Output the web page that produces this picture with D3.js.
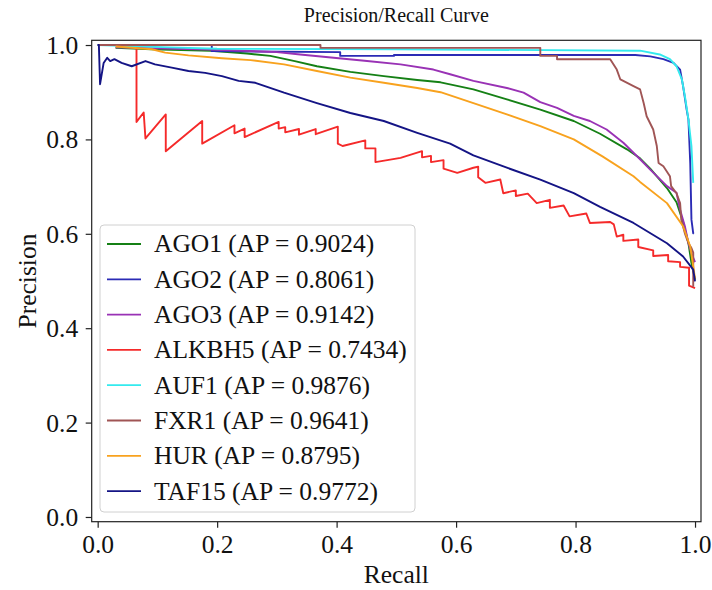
<!DOCTYPE html>
<html>
<head>
<meta charset="utf-8">
<script src="https://cdn.jsdelivr.net/npm/d3@7"></script>
<style>
  body { margin: 0; background: #fff; }
  svg text { font-family: "Liberation Serif", "Times New Roman", serif; fill: #111; }
</style>
</head>
<body>
<svg id="chart" width="712" height="590"></svg>
<script>
// series names, AP values, colours (legend order)
var names = ["AGO1", "AGO2", "AGO3", "ALKBH5", "AUF1", "FXR1", "HUR", "TAF15"];
var apValues = [0.9024, 0.8061, 0.9142, 0.7434, 0.9876, 0.9641, 0.8795, 0.9772];
var colors = ["#158015", "#2b2bb5", "#9932b5", "#f52a2a", "#33eaee", "#a05555", "#f8a21e", "#141485"];

// [recall, precision] points
var ago1 = [[0.03,0.994],[0.09,0.991],[0.19,0.988],[0.25,0.982],[0.289,0.977],[0.33,0.966],[0.367,0.955],
  [0.423,0.943],[0.479,0.934],[0.535,0.926],[0.574,0.921],[0.629,0.906],[0.685,0.885],[0.741,0.863],
  [0.797,0.839],[0.841,0.812],[0.886,0.779],[0.908,0.76],[0.925,0.738],[0.953,0.697],[0.969,0.667],
  [0.98,0.625],[0.989,0.58],[0.994,0.538],[1.0,0.503]];
var ago2 = [[0.0,1.0],[0.191,1.0],[0.191,0.987],[0.406,0.985],[0.406,0.977],[0.496,0.977],[0.496,0.979],
  [0.9,0.979],[0.925,0.976],[0.947,0.97],[0.964,0.962],[0.975,0.948],[0.98,0.913],[0.986,0.863],
  [0.989,0.842],[0.992,0.75],[0.994,0.63],[0.997,0.601],[0.998,0.6]];
var ago3 = [[0.03,0.995],[0.2,0.99],[0.3,0.985],[0.339,0.98],[0.395,0.973],[0.451,0.966],[0.507,0.959],
  [0.562,0.948],[0.59,0.938],[0.629,0.924],[0.685,0.909],[0.713,0.899],[0.741,0.879],[0.769,0.867],
  [0.797,0.85],[0.824,0.839],[0.852,0.821],[0.88,0.793],[0.908,0.758],[0.925,0.736],[0.953,0.701],
  [0.969,0.687],[0.975,0.651],[0.983,0.616],[0.989,0.58],[0.994,0.559],[1.0,0.54]];
var alkbh5 = [[0.065,0.996],[0.065,0.837],[0.077,0.857],[0.08,0.802],[0.114,0.853],[0.114,0.775],
  [0.175,0.839],[0.175,0.791],[0.229,0.83],[0.229,0.813],[0.246,0.823],[0.246,0.805],[0.303,0.837],
  [0.303,0.823],[0.314,0.826],[0.314,0.815],[0.337,0.822],[0.337,0.81],[0.365,0.822],[0.365,0.811],
  [0.402,0.827],[0.402,0.791],[0.41,0.786],[0.448,0.798],[0.448,0.781],[0.465,0.781],[0.465,0.752],
  [0.507,0.761],[0.543,0.775],[0.543,0.762],[0.558,0.765],[0.558,0.752],[0.579,0.756],[0.579,0.738],
  [0.602,0.729],[0.629,0.74],[0.637,0.742],[0.637,0.72],[0.649,0.708],[0.674,0.715],[0.679,0.686],
  [0.7,0.692],[0.7,0.68],[0.72,0.685],[0.735,0.665],[0.757,0.672],[0.757,0.655],[0.78,0.66],
  [0.79,0.637],[0.818,0.643],[0.824,0.623],[0.858,0.625],[0.864,0.62],[0.869,0.594],[0.88,0.598],
  [0.88,0.585],[0.905,0.588],[0.905,0.572],[0.93,0.565],[0.93,0.553],[0.955,0.555],[0.955,0.542],
  [0.975,0.54],[0.975,0.53],[0.99,0.528],[0.99,0.49],[1.0,0.485]];
var auf1 = [[0.0,1.0],[0.12,0.995],[0.2,0.992],[0.5,0.991],[0.908,0.988],[0.941,0.98],[0.958,0.97],
  [0.969,0.955],[0.978,0.927],[0.983,0.892],[0.989,0.842],[0.994,0.786],[0.997,0.708]];
var fxr1 = [[0.0,1.0],[0.373,1.0],[0.373,0.994],[0.741,0.994],[0.741,0.977],[0.769,0.977],[0.769,0.97],
  [0.858,0.97],[0.869,0.948],[0.875,0.927],[0.897,0.913],[0.908,0.906],[0.914,0.877],[0.919,0.849],
  [0.93,0.821],[0.936,0.786],[0.939,0.75],[0.947,0.743],[0.958,0.722],[0.96,0.701],[0.969,0.686],
  [0.975,0.665],[0.977,0.63],[0.983,0.601],[0.989,0.58],[0.994,0.57],[0.997,0.56],[0.997,0.488]];
var hur = [[0.03,0.997],[0.091,0.991],[0.113,0.984],[0.152,0.978],[0.208,0.972],[0.256,0.968],
  [0.312,0.959],[0.367,0.945],[0.423,0.931],[0.479,0.92],[0.535,0.909],[0.574,0.9],[0.629,0.877],
  [0.685,0.853],[0.741,0.828],[0.797,0.8],[0.845,0.764],[0.897,0.722],[0.908,0.71],[0.953,0.665],
  [0.98,0.616],[0.992,0.573],[0.997,0.531],[1.0,0.505]];
var taf15 = [[0.0,1.0],[0.002,1.0],[0.004,0.917],[0.01,0.962],[0.016,0.973],[0.021,0.966],[0.028,0.97],
  [0.04,0.962],[0.057,0.955],[0.08,0.966],[0.096,0.959],[0.124,0.952],[0.152,0.945],[0.18,0.941],
  [0.208,0.934],[0.236,0.924],[0.264,0.92],[0.312,0.899],[0.367,0.877],[0.423,0.856],[0.479,0.839],
  [0.535,0.814],[0.59,0.791],[0.629,0.766],[0.685,0.74],[0.741,0.715],[0.797,0.686],[0.841,0.657],
  [0.897,0.623],[0.953,0.58],[0.98,0.552],[0.997,0.524],[1.0,0.499]];

var curves = [ago1, ago2, ago3, alkbh5, auf1, fxr1, hur, taf15];
var ticks = [0, 0.2, 0.4, 0.6, 0.8, 1.0];

var svg = d3.select("#chart");
var axL = 91.7, axR = 701, axT = 40.3, axB = 521.7;

var x = d3.scaleLinear().domain([-0.01, 1.01]).range([axL, axR]);
var y = d3.scaleLinear().domain([-0.01, 1.01]).range([axB, axT]);

var line = d3.line().x(d => x(d[0])).y(d => y(d[1]));

svg.selectAll("path.curve")
    .data(curves)
    .enter()
    .append("path")
    .attr("class", "curve")
    .attr("d", line)
    .attr("fill", "none")
    .attr("stroke", (d, i) => colors[i])
    .attr("stroke-width", 1.9)
    .attr("stroke-linejoin", "round");

// axes
var xAxis = svg.append("g")
    .attr("transform", "translate(0," + axB + ")")
    .call(d3.axisBottom(x).tickValues(ticks).tickFormat(d3.format(".1f")).tickSize(6).tickPadding(7));
var yAxis = svg.append("g")
    .attr("transform", "translate(" + axL + ",0)")
    .call(d3.axisLeft(y).tickValues(ticks).tickFormat(d3.format(".1f")).tickSize(6).tickPadding(7.5));

[xAxis, yAxis].forEach(function(g) {
    g.select(".domain").remove();
    g.selectAll(".tick line").attr("stroke", "#222").attr("stroke-width", 1.2);
    g.selectAll(".tick text")
        .attr("fill", "#111")
        .style("font-family", '"Liberation Serif", serif')
        .style("font-size", "25.5px");
});
yAxis.selectAll(".tick text").attr("dy", "0.33em");

svg.append("rect")
    .attr("x", axL).attr("y", axT)
    .attr("width", axR - axL).attr("height", axB - axT)
    .attr("fill", "none")
    .attr("stroke", "#222")
    .attr("stroke-width", 1.2);

// titles
svg.append("text")
    .attr("x", (axL + axR) / 2).attr("y", 22)
    .attr("text-anchor", "middle")
    .style("font-size", "20px")
    .text("Precision/Recall Curve");
svg.append("text")
    .attr("x", (axL + axR) / 2).attr("y", 583)
    .attr("text-anchor", "middle")
    .style("font-size", "25.5px")
    .text("Recall");
svg.append("text")
    .attr("transform", "translate(36," + y(0.5) + ") rotate(-90)")
    .attr("text-anchor", "middle")
    .style("font-size", "25.5px")
    .text("Precision");

// legend
var legend = svg.append("g");
legend.append("rect")
    .attr("x", 100).attr("y", 225)
    .attr("width", 315).attr("height", 287)
    .attr("rx", 4)
    .attr("fill", "#fff").attr("fill-opacity", 0.8)
    .attr("stroke", "#d0d0d0");

var rows = legend.selectAll("g.row")
    .data(names)
    .enter()
    .append("g")
    .attr("class", "row")
    .attr("transform", (d, i) => "translate(0," + (244 + i * 35.3) + ")");
rows.append("line")
    .attr("x1", 107).attr("x2", 141)
    .attr("stroke", (d, i) => colors[i])
    .attr("stroke-width", 1.8);
rows.append("text")
    .attr("x", 154).attr("dy", "0.33em")
    .style("font-size", "25.5px")
    .text((d, i) => d + " (AP = " + apValues[i].toFixed(4) + ")");
</script>
</body>
</html>
